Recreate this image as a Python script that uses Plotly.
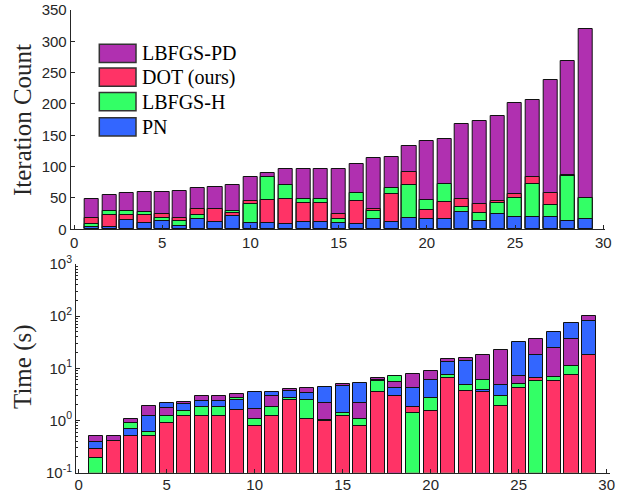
import plotly.graph_objects as go

# ---------------- data ----------------
problems = list(range(1, 30))
methods = ["LBFGS-PD", "DOT (ours)", "LBFGS-H", "PN"]
colors = ["#B030B0", "#FF3366", "#33FF66", "#3366FF"]

iter_lbfgs_pd = [49, 54, 58.5, 59, 60, 61, 66.5, 68, 70, 83, 90, 96, 97, 97, 97, 105, 114, 116,
                 133.5, 141.5, 144, 167.5, 173, 181, 201, 206, 238, 268.5, 319]
iter_dot = [17.5, 23, 23, 23, 24.5, 17.5, 32, 32, 25.5, 45, 47, 48, 41.5, 41.5, 24.5, 44.7, 32, 56,
            92, 31, 43, 48, 40, 45, 56, 84, 58.5, 86, 50.5]
iter_lbfgs_h = [8.5, 29, 29, 27, 17.5, 14, 23, 11.3, 29, 40, 83, 70, 48, 48, 16, 57.5, 29, 66,
                70, 47, 73, 35, 25.5, 42, 50, 73, 39, 84.6, 50]
iter_pn = [4, 4, 15, 9.6, 13, 5, 17, 11, 21, 9.6, 9.6, 8, 11, 11, 9.6, 8.5, 16, 11,
           17.5, 16, 17, 27, 14, 24, 20, 20, 20, 13, 16]

time_lbfgs_pd = [0.50, 0.50, 1.09, 1.94, 1.72, 2.28, 2.93, 2.93, 3.29, 1.70, 3.01, 4.05, 4.29, 2.21,
                 5.12, 2.21, 6.48, 5.43, 7.96, 8.96, 14.8, 16.1, 18.4, 22.3, 7.08, 37.3, 24.4, 36.2, 103]
time_dot = [0.29, 0.40, 0.50, 0.50, 0.90, 1.21, 1.21, 1.21, 1.60, 0.80, 1.21, 2.49, 1.09, 1.00,
            1.21, 0.80, 3.49, 3.01, 1.80, 1.49, 6.48, 3.76, 3.49, 1.91, 4.29, 6.48, 5.68, 7.39, 17.9]
time_lbfgs_h = [0.195, 0.405, 0.90, 0.61, 1.21, 1.51, 1.80, 1.80, 2.72, 1.09, 1.80, 2.72, 2.49, 1.02,
                1.42, 1.09, 5.84, 7.08, 1.38, 2.76, 7.39, 4.83, 5.93, 3.01, 5.05, 5.68, 6.77, 11.3, 18.1]
time_pn = [0.39, 0.41, 0.69, 1.21, 2.21, 2.09, 2.38, 2.38, 2.45, 3.59, 3.59, 3.76, 3.44, 4.35,
           4.69, 5.27, 5.90, 4.23, 4.29, 6.11, 13.5, 13.9, 3.93, 4.90, 32.7, 17.9, 50.8, 74.5, 80.2]

x_ticks = [0, 5, 10, 15, 20, 25, 30]
iter_ticks = [0, 50, 100, 150, 200, 250, 300, 350]
time_ticks = [0.1, 1, 10, 100, 1000]
time_tick_labels = ["10<sup>-1</sup>", "10<sup>0</sup>", "10<sup>1</sup>", "10<sup>2</sup>", "10<sup>3</sup>"]

# ---------------- figure ----------------
fig = go.Figure()


def add_overlaid(series, xaxis, yaxis):
    """Draw, for every problem, the four bars from largest (back) to smallest (front)."""
    n = len(problems)
    ranks = []
    for i in range(n):
        vals = [(series[m][i], m) for m in range(4)]
        vals.sort(key=lambda t: -t[0])
        ranks.append(vals)
    for r in range(4):
        fig.add_trace(go.Bar(
            x=problems,
            y=[ranks[i][r][0] for i in range(n)],
            marker=dict(color=[colors[ranks[i][r][1]] for i in range(n)],
                        line=dict(color="#111111", width=1)),
            width=0.8,
            customdata=[methods[ranks[i][r][1]] for i in range(n)],
            hovertemplate="%{customdata}: %{y}<extra></extra>",
            showlegend=False,
            xaxis=xaxis, yaxis=yaxis,
        ))


add_overlaid([iter_lbfgs_pd, iter_dot, iter_lbfgs_h, iter_pn], "x", "y")
add_overlaid([time_lbfgs_pd, time_dot, time_lbfgs_h, time_pn], "x2", "y2")

W, H = 621, 493
tick_font = dict(family="Liberation Sans, Arial, sans-serif", size=15, color="#262626")
axis_common = dict(showline=True, linecolor="#262626", linewidth=1, ticks="inside",
                   ticklen=4, tickcolor="#262626", showgrid=False, zeroline=False,
                   tickfont=tick_font, mirror=False, automargin=False)

fig.update_layout(
    width=W, height=H,
    margin=dict(l=0, r=0, t=0, b=0),
    paper_bgcolor="white", plot_bgcolor="white",
    barmode="overlay", bargap=0,
    showlegend=False,
    xaxis=dict(domain=[70.7 / W, 605 / W], range=[-0.19, 30.1], tickvals=x_ticks,
               anchor="y", **axis_common),
    yaxis=dict(domain=[1 - 229.3 / H, 1 - 10 / H], range=[0, 350], tickvals=iter_ticks,
               anchor="x", **axis_common),
    xaxis2=dict(domain=[76 / W, 610 / W], range=[-0.15, 30.19], tickvals=x_ticks,
                anchor="y2", ticklabelstandoff=-2, **axis_common),
    yaxis2=dict(domain=[1 - 472.7 / H, 1 - 264 / H], type="log", range=[-1, 3],
                tickvals=time_ticks, ticktext=time_tick_labels, anchor="x2",
                minor=dict(ticks="inside", ticklen=2, tickcolor="#262626", showgrid=False,
                           dtick="D1"),
                **axis_common),
)

# axis titles
title_font = dict(family="Liberation Serif, Times New Roman, serif", size=25, color="#262626")
fig.add_annotation(text="Iteration Count", x=22 / W, y=1 - 120 / H, xref="paper", yref="paper",
                   textangle=-90, showarrow=False, font=title_font,
                   xanchor="center", yanchor="middle")
fig.add_annotation(text="Time (s)", x=23 / W, y=1 - 367 / H, xref="paper", yref="paper",
                   textangle=-90, showarrow=False, font=title_font,
                   xanchor="center", yanchor="middle")

# legend (swatches + labels)
leg_font = dict(family="Liberation Serif, Times New Roman, serif", size=20, color="black")
sw_x0, sw_x1 = 99.3, 136
sw_tops = [44.3, 68, 92.5, 117.7]
sw_h = 18.3
for k, name in enumerate(methods):
    y0 = sw_tops[k]
    fig.add_shape(type="rect", xref="paper", yref="paper",
                  x0=sw_x0 / W, x1=sw_x1 / W, y0=1 - (y0 + sw_h) / H, y1=1 - y0 / H,
                  fillcolor=colors[k], line=dict(color="#333333", width=1.5))
    fig.add_annotation(text=name, x=139.5 / W, y=1 - (y0 + sw_h / 2) / H,
                       xref="paper", yref="paper", showarrow=False, font=leg_font,
                       xanchor="left", yanchor="middle")

fig.write_html("out.html", config={"displayModeBar": False},
               post_script="document.body.style.margin='0';document.body.style.overflow='hidden';")
